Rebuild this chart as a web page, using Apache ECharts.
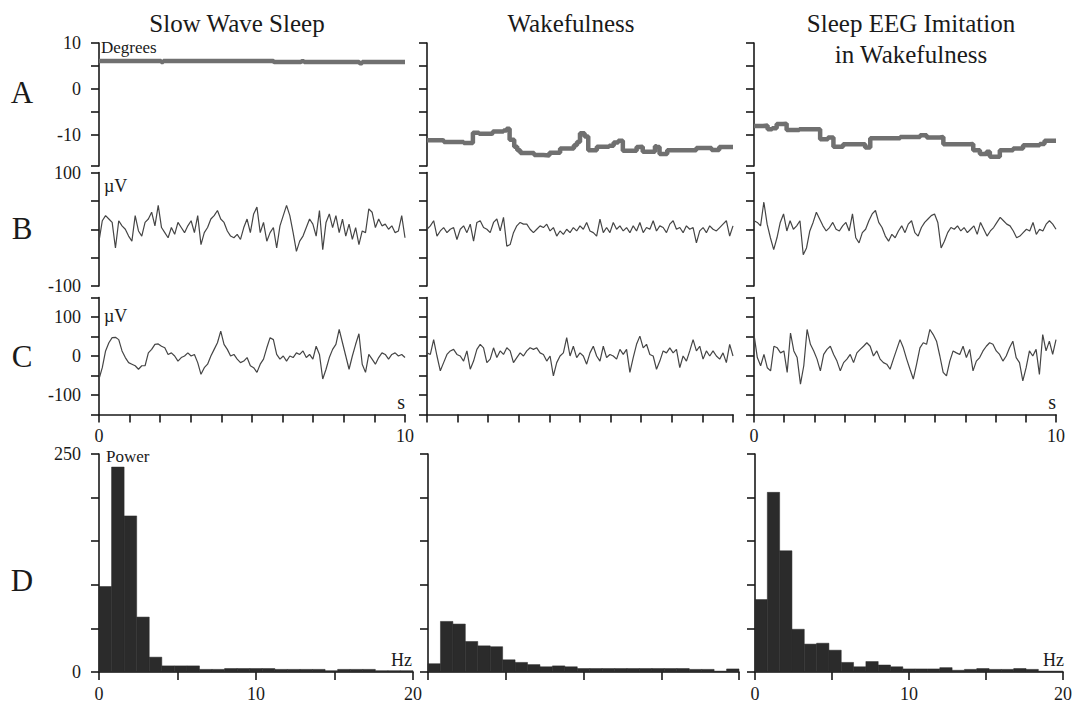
<!DOCTYPE html>
<html>
<head>
<meta charset="utf-8">
<script src="https://cdn.jsdelivr.net/npm/echarts@6/dist/echarts.min.js"></script>
<style>html,body{margin:0;padding:0;background:#fff}#c{width:1076px;height:713px}</style>
</head>
<body>
<div id="c"></div>
<script>
// ---------------- DATA ----------------
const columnTitles = ["Slow Wave Sleep", "Wakefulness", "Sleep EEG Imitation\nin Wakefulness"];
const rowLetters = ["A", "B", "C", "D"];

// Row A: head angle (degrees), time in s
const angleSWS_t = [0, 2.0, 2.03, 2.1, 5.7, 5.72, 6.6, 6.62, 6.7, 8.5, 8.52, 8.6, 10];
const angleSWS_v = [6.1, 6.1, 5.9, 6.1, 6.1, 5.85, 5.85, 6.05, 5.85, 5.85, 5.6, 5.85, 5.85];
const angleWake_t = [0, 0.5, 0.55, 1.2, 1.3, 1.5, 1.7, 2.1, 2.15, 2.5, 2.6, 2.7, 2.85, 2.95, 3.05, 3.5, 3.8, 4.0, 4.35, 4.8, 4.9, 5.0, 5.15, 5.27, 5.55, 5.95, 6.1, 6.25, 6.4, 6.85, 6.9, 7.05, 7.45, 7.5, 7.6, 7.85, 8.35, 8.8, 9.3, 9.55, 10];
const angleWake_v = [-11.1, -11.2, -11.5, -11.7, -11.7, -9.5, -9.7, -9.6, -9.2, -9.0, -8.6, -11.0, -12.5, -13.3, -13.9, -14.3, -14.4, -13.8, -12.9, -12.2, -11.5, -9.6, -10.3, -13.3, -12.5, -12.3, -11.6, -11.2, -13.4, -12.6, -12.5, -13.6, -12.4, -12.6, -14.1, -13.3, -13.3, -12.8, -13.2, -12.6, -12.5];
const angleImit_t = [0, 0.3, 0.45, 0.6, 0.75, 0.97, 1.08, 1.5, 2.07, 2.19, 2.45, 2.63, 2.95, 3.4, 3.68, 3.85, 4.5, 4.84, 5.5, 5.72, 6.15, 6.27, 7.15, 7.26, 7.48, 7.7, 7.81, 8.14, 8.58, 8.91, 9.46, 9.62, 10];
const angleImit_v = [-8.0, -7.9, -8.7, -8.5, -7.6, -7.5, -8.9, -8.7, -8.7, -10.9, -10.5, -12.5, -12.0, -12.0, -12.7, -10.7, -10.7, -10.4, -10.0, -10.5, -10.4, -12.0, -11.9, -13.3, -14.1, -13.6, -14.7, -13.3, -12.9, -12.2, -11.9, -11.2, -11.3];

// Rows B and C: EEG (µV), samples evenly spread over 10 s
const eegB_SWS = [-21, 15, 24, 18, 12, -33, 15, 6, 0, -12, -21, 24, -3, -12, 12, 18, 30, 6, 42, 3, -6, -15, 3, -9, 12, 3, -6, 6, 15, -6, 24, -27, -6, 3, 18, 24, 33, 18, 12, -3, -12, -15, -9, -18, 3, 18, -6, 27, 39, -6, 12, -21, -6, 3, -33, 6, 24, 42, 24, -6, -39, -21, -12, 3, 18, 9, -12, 33, -36, 12, 27, 3, 24, -6, 18, -12, 9, -18, 3, -27, -3, -6, 36, 30, 3, 18, 6, 9, 0, 6, -6, -3, 24, -15];
const eegB_Wake = [0, 6, 15, -12, -3, 3, -6, 0, 3, -18, 0, 6, -6, 9, -21, 12, 15, 3, 0, -6, 12, 18, -3, 21, -30, -27, -6, 6, 12, 9, 9, 0, -6, 0, 6, 3, 9, -3, 3, -12, -3, -9, 0, -6, 3, -3, 6, 0, 12, -3, -6, -12, 18, -6, 3, -6, 12, 0, 6, -3, 3, -6, 6, -3, 12, -6, 3, 0, 15, -3, 6, 3, -6, 9, 15, 0, 3, -6, 6, 0, 3, -24, -3, 3, -6, 6, 0, -3, 3, 9, 15, -12, 6];
const eegB_Imit = [15, 12, 6, 48, 9, -15, -36, -15, 12, 27, -3, 15, 0, 6, 15, -45, -33, -3, 12, 30, 18, 6, -3, 3, 12, 0, -3, 6, 12, -3, 27, -15, -24, -6, 0, 15, 27, 33, 12, 3, -12, -21, -9, -15, -3, 6, -6, 9, 15, -6, -12, 3, 12, 18, 24, 27, 12, -33, -21, -6, 3, 0, 6, -3, 3, -6, 0, 6, -9, 12, 0, -12, -3, 3, 12, 21, 15, 9, 6, -3, -15, -12, -6, 0, -3, 12, -9, 0, -3, 9, 15, 9, 0];
const eegC_SWS = [-59, -30, 13, 34, 47, 48, 42, 13, -4, -17, -21, -25, -34, -25, -25, 8, 17, 30, 31, 25, 21, 4, 8, 0, -13, -4, 0, 8, 0, 4, -17, -47, -30, -21, 0, 17, 34, 64, 30, 17, 0, 4, -8, -17, -13, -4, -25, -30, -42, -21, -8, 21, 47, 42, 4, -8, 0, -13, 0, -4, 8, 4, 13, -4, 4, -8, 25, 4, -59, -34, -4, 17, 30, 68, 34, 0, -34, 0, 30, 57, -21, -42, 4, -8, -21, -4, 8, 4, -8, 4, 8, 0, 4, -4];
const eegC_Wake = [8, 4, 42, 0, -38, -17, 4, 13, 17, 4, 0, -13, 13, -34, -13, 17, 30, 21, -17, -8, 21, -4, 13, 4, 21, 13, -17, -4, 8, 0, 13, 21, 17, 21, 8, 4, -13, 0, -51, -17, 0, 8, 47, 0, 25, -4, 8, 0, -21, 8, 25, 0, -13, 25, -4, 4, 0, -8, 17, 4, 17, -42, -4, 30, 51, 21, 30, 4, 0, -34, -13, 13, 8, 21, 8, 17, -30, 0, -13, 13, 42, 13, 25, -8, 13, 0, 13, 0, -8, 8, -17, 30, 0];
const eegC_Imit = [55, -4, -25, 4, -30, -38, 25, 21, 8, 13, -42, 59, 13, -4, -72, -25, 68, 30, 13, -8, -38, 4, 17, 25, 4, -13, -38, -17, -8, 4, -17, 8, 17, 25, 34, 25, 0, 13, -8, -17, -21, -34, -8, 17, 42, 21, -8, -34, -59, -21, 21, 34, 30, 68, 55, 38, 0, -42, -51, -13, 13, 8, 4, 25, -4, 17, -38, -13, -4, 13, 25, 34, 30, 13, 4, -13, 0, 21, 38, -4, -17, -64, -30, 13, 0, 17, -47, 55, 13, 38, 4, 42];

// Row D: power spectra, bins of 0.8 Hz from 0 to 20 Hz
const binWidthHz = 0.8;
const powerSWS  = [98, 235, 179, 63, 17, 7, 7, 7, 3, 3, 4, 4, 4, 4, 3, 3, 3, 3, 1.5, 3, 3, 3, 1.5, 1.5, 1.5];
const powerWake = [9.5, 58, 55, 35, 30, 29, 14, 11, 8.5, 6, 7, 6, 4, 4, 4, 4, 4, 4, 4, 4, 4, 3, 3, 1, 3.5];
const powerImit = [83, 206, 139, 49, 32, 33, 25, 11, 6, 12, 8, 6, 3.5, 3.5, 3.5, 5, 2, 3, 4, 3, 3, 4, 3, 1, 1];

// Tick labels
const ticksA = [10, 5, 0, -5, -10, -16.7];
const labelsA = [10, 0, -10];
const labelsB = [100, -100];
const labelsC = [100, 0, -100];
const labelsD = [250, 0];
const labelsTime = [0, 10];
const labelsFreq = [0, 10, 20];

// ---------------- LAYOUT / STYLE ----------------
const FONT = "'Liberation Serif', 'Times New Roman', serif";
const INK = '#1a1a1a';
const colABC = [{left: 99, width: 306}, {left: 427, width: 306}, {left: 754, width: 302}];
const colD = [{left: 99, width: 314}, {left: 428, width: 311}, {left: 755, width: 308}];
const rowBox = [{top: 43, height: 123}, {top: 172.5, height: 113.5}, {top: 297.5, height: 117}, {top: 454, height: 218}];

const angleT = [angleSWS_t, angleWake_t, angleImit_t];
const angleV = [angleSWS_v, angleWake_v, angleImit_v];
const eegB = [eegB_SWS, eegB_Wake, eegB_Imit];
const eegC = [eegC_SWS, eegC_Wake, eegC_Imit];
const power = [powerSWS, powerWake, powerImit];

const axisLine = {show: true, onZero: false, lineStyle: {color: INK, width: 1.6}};
const axisTick = (extra) => Object.assign({show: true, inside: false, length: 8, lineStyle: {color: INK, width: 1.6}}, extra || {});
const lblStyle = {fontFamily: FONT, fontSize: 18, color: INK};

const grids = [], xAxes = [], yAxes = [], series = [];

function evenSeries(vals) {
  const n = vals.length;
  return vals.map((v, i) => [i * 10 / (n - 1), v]);
}

for (let r = 0; r < 4; r++) {
  for (let c = 0; c < 3; c++) {
    const idx = r * 3 + c;
    const col = r === 3 ? colD[c] : colABC[c];
    grids.push({left: col.left, width: col.width, top: rowBox[r].top, height: rowBox[r].height, containLabel: false});
    const showLbl = c === 0;
    if (r < 2) {
      xAxes.push({gridIndex: idx, type: 'value', min: 0, max: 10, show: false});
    } else if (r === 2) {
      xAxes.push({gridIndex: idx, type: 'value', min: 0, max: 10, interval: 1,
        axisLine, axisTick: axisTick(), splitLine: {show: false},
        axisLabel: Object.assign({show: c !== 1, margin: 12, customValues: labelsTime}, lblStyle)});
    } else {
      xAxes.push({gridIndex: idx, type: 'value', min: 0, max: 20, interval: 5,
        axisLine, axisTick: axisTick(), splitLine: {show: false},
        axisLabel: Object.assign({show: c !== 1, margin: 13, customValues: labelsFreq}, lblStyle)});
    }
    let y;
    if (r === 0) {
      y = {min: -16.7, max: 10, axisTick: axisTick({customValues: ticksA}),
           axisLabel: Object.assign({show: showLbl, margin: 18, customValues: labelsA}, lblStyle)};
    } else if (r === 1) {
      y = {min: -100, max: 100, interval: 50, axisTick: axisTick(),
           axisLabel: Object.assign({show: showLbl, margin: 18, customValues: labelsB}, lblStyle)};
    } else if (r === 2) {
      y = {min: -150, max: 150, interval: 50, axisTick: axisTick(),
           axisLabel: Object.assign({show: showLbl, margin: 18, customValues: labelsC}, lblStyle)};
    } else {
      y = {min: 0, max: 250, interval: 50, axisTick: axisTick(),
           axisLabel: Object.assign({show: showLbl, margin: 18, customValues: labelsD}, lblStyle)};
    }
    yAxes.push(Object.assign({gridIndex: idx, type: 'value', axisLine, splitLine: {show: false}}, y));

    if (r === 0) {
      series.push({type: 'line', xAxisIndex: idx, yAxisIndex: idx, showSymbol: false, animation: false,
        step: 'end',
        data: angleT[c].map((t, i) => [t, angleV[c][i]]),
        lineStyle: {color: '#707070', width: 4.5}});
    } else if (r === 1 || r === 2) {
      const src = r === 1 ? eegB[c] : eegC[c];
      series.push({type: 'line', xAxisIndex: idx, yAxisIndex: idx, showSymbol: false, animation: false,
        data: evenSeries(src), lineStyle: {color: '#454545', width: 1.2}});
    } else {
      series.push({type: 'custom', xAxisIndex: idx, yAxisIndex: idx, animation: false,
        data: power[c].map((p, i) => [i * binWidthHz, (i + 1) * binWidthHz, p]),
        renderItem: function (params, api) {
          const p0 = api.coord([api.value(0), api.value(2)]);
          const p1 = api.coord([api.value(1), 0]);
          return {type: 'rect', shape: {x: p0[0], y: p0[1], width: p1[0] - p0[0], height: p1[1] - p0[1]},
                  style: {fill: '#2b2b2b', stroke: '#2b2b2b', lineWidth: 0.5}};
        }});
    }
  }
}

const txt = (text, x, y, size, align, extra) => ({type: 'text', x, y, silent: true,
  style: Object.assign({text, font: size + 'px ' + FONT, fill: INK, align: align || 'left', verticalAlign: 'middle'}, extra || {})});

const graphics = [
  txt(columnTitles[0], 237, 23, 25, 'center'),
  txt(columnTitles[1], 571, 23, 25, 'center'),
  txt('Sleep EEG Imitation', 911, 23, 25, 'center'),
  txt('in Wakefulness', 911, 54, 25, 'center'),
  txt(rowLetters[0], 22, 92, 31, 'center'),
  txt(rowLetters[1], 22, 228, 31, 'center'),
  txt(rowLetters[2], 22, 356, 31, 'center'),
  txt(rowLetters[3], 22, 580, 31, 'center'),
  txt('Degrees', 101, 47, 17, 'left'),
  txt('\u00b5V', 104, 186, 18, 'left'),
  txt('\u00b5V', 104, 316, 18, 'left'),
  txt('s', 405, 402, 20, 'right'),
  txt('s', 1056, 402, 20, 'right'),
  txt('Power', 106, 456, 17, 'left'),
  txt('Hz', 412, 660, 18, 'right'),
  txt('Hz', 1064, 660, 18, 'right')
];

const chart = echarts.init(document.getElementById('c'), null, {renderer: 'svg', width: 1076, height: 713});
chart.setOption({
  animation: false,
  backgroundColor: '#ffffff',
  grid: grids, xAxis: xAxes, yAxis: yAxes, series: series, graphic: graphics
});
</script>
</body>
</html>
